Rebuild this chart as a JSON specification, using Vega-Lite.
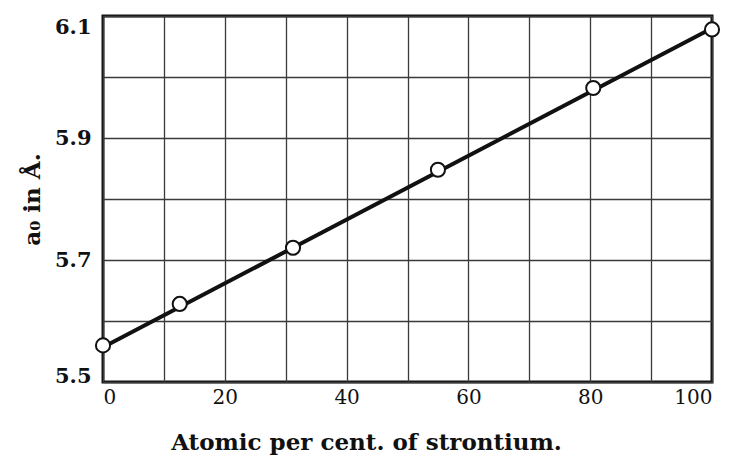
{
  "$schema": "https://vega.github.io/schema/vega-lite/v6.json",
  "autosize": {"type": "none"},
  "width": 609,
  "height": 366,
  "padding": {"left": 103, "top": 16, "right": 29, "bottom": 76},
  "background": "white",
  "config": {
    "view": {"stroke": "#111", "strokeWidth": 3},
    "font": "DejaVu Serif"
  },
  "datasets": {
    "points": [
      {"sr": 0, "a0": 5.560},
      {"sr": 12.6, "a0": 5.628},
      {"sr": 31.2, "a0": 5.720},
      {"sr": 55.0, "a0": 5.848},
      {"sr": 80.5, "a0": 5.982},
      {"sr": 100, "a0": 6.078}
    ],
    "fit": [
      {"sr": 0, "a0": 5.557},
      {"sr": 100, "a0": 6.080}
    ]
  },
  "layer": [
    {
      "data": {"name": "fit"},
      "mark": {"type": "line", "color": "#111", "strokeWidth": 4},
      "encoding": {
        "x": {
          "field": "sr", "type": "quantitative",
          "scale": {"domain": [0, 100], "nice": false, "zero": false},
          "axis": {
            "values": [0, 10, 20, 30, 40, 50, 60, 70, 80, 90, 100],
            "labelExpr": "datum.value % 20 == 0 ? datum.label : ''",
            "title": "Atomic per cent. of strontium.",
            "titleFont": "DejaVu Serif", "titleFontSize": 23, "titleFontWeight": "bold",
            "titleColor": "#111", "titlePadding": 24, "titleX": 263, "titleAlign": "center",
            "labelFont": "DejaVu Serif", "labelFontSize": 20, "labelColor": "#111",
            "labelPadding": 5, "ticks": false, "domain": false,
            "grid": true, "gridColor": "#3a3a3a", "gridWidth": 1.3
          }
        },
        "y": {
          "field": "a0", "type": "quantitative",
          "scale": {"domain": [5.5, 6.1], "nice": false, "zero": false},
          "axis": {
            "values": [5.5, 5.6, 5.7, 5.8, 5.9, 6.0, 6.1],
            "labelExpr": "indexof(['5.5','5.7','5.9','6.1'], format(datum.value,'.1f')) >= 0 ? format(datum.value,'.1f') : ''",
            "labelBaseline": {"condition": [{"test": "datum.value > 6.05", "value": "top"}, {"test": "datum.value < 5.55", "value": "alphabetic"}], "value": "middle"},
            "title": "a₀ in Å.",
            "titleFont": "DejaVu Serif", "titleFontSize": 23, "titleFontWeight": "bold",
            "titleColor": "#111", "titlePadding": 10,
            "labelFont": "DejaVu Serif", "labelFontSize": 21, "labelFontWeight": "bold",
            "labelColor": "#111", "labelPadding": 12, "ticks": false, "domain": false,
            "grid": true, "gridColor": "#3a3a3a", "gridWidth": 1.3
          }
        }
      }
    },
    {
      "data": {"name": "points"},
      "mark": {"type": "point", "shape": "circle", "filled": true, "fill": "white", "stroke": "#111", "strokeWidth": 2, "size": 200, "opacity": 1},
      "encoding": {
        "x": {"field": "sr", "type": "quantitative"},
        "y": {"field": "a0", "type": "quantitative"}
      }
    }
  ]
}
